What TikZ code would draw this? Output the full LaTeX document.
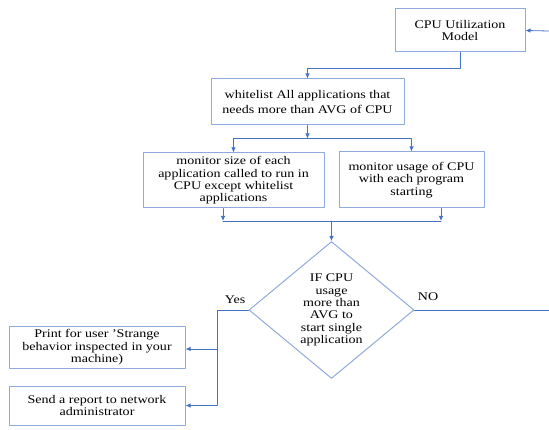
\documentclass[tikz,border=0pt]{standalone}
\usepackage{fontspec}
\setmainfont{Liberation Serif}[FakeStretch=1.2]
\usepackage{xcolor}
\usetikzlibrary{arrows.meta,shapes.geometric}

\definecolor{boxline}{HTML}{8FAADC}
\definecolor{linkblue}{HTML}{4472C4}

\begin{document}
\begin{tikzpicture}[x=1pt, y=-1pt, line cap=round, line join=round,
    txt/.style={font=\fontsize{11.7}{12.4}\selectfont, text=black, align=center, inner sep=0pt},
    stepbox/.style={txt, draw=boxline, line width=1pt, rectangle},
    conn/.style={draw=linkblue, line width=0.8pt},
    >={Latex[length=5pt,width=4.5pt]}]

  % ---- Canvas ----
  \useasboundingbox (0,0) rectangle (549,430);

  % ---- Boxes ----
  \node[stepbox, minimum width=130pt, minimum height=43pt] (model) at (460,30.5)
    {CPU Utilization\\Model};
  \node[stepbox, minimum width=193pt, minimum height=46pt,
        font=\fontsize{11.7}{14.2}\selectfont] (white) at (307.5,102)
    {whitelist All applications that\\needs more than AVG of CPU};
  \node[stepbox, minimum width=181pt, minimum height=55pt] (msize) at (233.5,180.5)
    {monitor size of each\\application called to run in\\CPU except whitelist\\applications};
  \node[stepbox, minimum width=145pt, minimum height=56pt] (musage) at (411.5,180)
    {monitor usage of CPU\\with each program\\starting};

  % ---- Decision ----
  \node[txt, diamond, draw=boxline, line width=1pt, minimum width=165pt,
        minimum height=137pt] (dec) at (331.5,310)
    {IF CPU\\usage\\more than\\AVG to\\start single\\application};

  % ---- Outputs ----
  \node[stepbox, minimum width=176pt, minimum height=41pt] (print) at (97,347.5)
    {Print for user \symbol{39}Strange\\behavior inspected in your\\machine)};
  \node[stepbox, minimum width=176pt, minimum height=39pt] (report) at (97,405.5)
    {Send a report to network\\administrator};

  % ---- Labels ----
  \node[txt] (yeslbl) at (235,300) {Yes};
  \node[txt] (nolbl) at (428,297) {NO};

  % ---- Helper points ----
  \coordinate (feed) at (549,31);
  \coordinate (split) at (307.5,138.5);
  \coordinate (merge) at (331.5,221);
  \coordinate (yesx) at (217,0);
  \coordinate (noend) at (549,310);

  % ---- Connectors ----
  \draw[conn,->] (feed) -- (model.east);
  \draw[conn,->] (model.south) -- ++(0,16) -| (white.north);
  \draw[conn,->] (white.south) -- (split);
  \draw[conn,->] (split) -| (msize.north);
  \draw[conn,->] (split) -| (musage.north);

  \draw[conn,->] ([xshift=-10.5pt]msize.south) -- ([xshift=-10.5pt]msize.south |- merge);
  \draw[conn,->] ([xshift=29.5pt]musage.south) -- ([xshift=29.5pt]musage.south |- merge);
  \draw[conn] ([xshift=-10.5pt]msize.south |- merge) -- ([xshift=29.5pt]musage.south |- merge);
  \draw[conn,->] (merge) -- (dec.north);

  % yes branch
  \draw[conn] (dec.west) -- (dec.west -| yesx) -- (report.east -| yesx);
  \draw[conn,->] ([yshift=-1.5pt]print.east -| yesx) -- ([yshift=-1.5pt]print.east);
  \draw[conn,->] (report.east -| yesx) -- (report.east);

  % no branch
  \draw[conn] (dec.east) -- (noend);

\end{tikzpicture}
\end{document}
